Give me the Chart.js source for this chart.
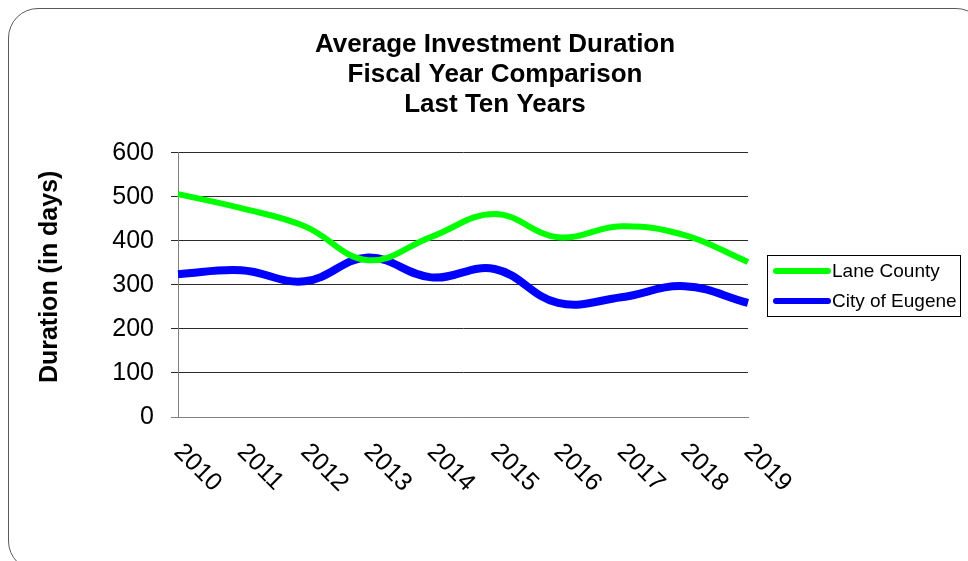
<!DOCTYPE html>
<html>
<head>
<meta charset="utf-8">
<title>Average Investment Duration</title>
<script src="https://cdn.jsdelivr.net/npm/chart.js@4.4.1/dist/chart.umd.min.js"></script>
<style>
  html, body { margin: 0; padding: 0; background: #fff; }
  #wrap { position: relative; width: 968px; height: 561px; overflow: hidden; }
  #frame {
    position: absolute; left: 8px; top: 8px; width: 978px; height: 563px;
    border: 1.5px solid #5a5a5a; border-radius: 30px; box-sizing: border-box;
  }
  #chart { position: absolute; left: 0; top: 0; }
</style>
</head>
<body>
<div id="wrap">
  <div id="frame"></div>
  <canvas id="chart" width="968" height="561"></canvas>
</div>
<script>
const years = ['2010', '2011', '2012', '2013', '2014', '2015', '2016', '2017', '2018', '2019'];
const laneCounty = [506, 474, 433, 356, 409, 461, 408, 433, 413, 352];
const cityOfEugene = [324, 333, 308, 362, 317, 336, 259, 272, 297, 259];
const titleLines = ['Average Investment Duration', 'Fiscal Year Comparison', 'Last Ten Years'];
const yAxisTitle = 'Duration (in days)';

const FONT = '"Liberation Sans", Arial, sans-serif';

// x labels are drawn turned clockwise, which the category axis can't do itself;
// the y title sits a little above the plot's middle, and the legend is a plain box
const extrasPlugin = {
  id: 'extras',
  afterDraw(chart) {
    const ctx = chart.ctx;
    const xScale = chart.scales.x;
    const area = chart.chartArea;

    ctx.save();
    ctx.fillStyle = '#000';
    ctx.font = '25px ' + FONT;
    ctx.textAlign = 'left';
    ctx.textBaseline = 'alphabetic';
    years.forEach((label, i) => {
      const x = xScale.getPixelForValue(i);
      ctx.save();
      ctx.translate(x - 5, xScale.top + 36);
      ctx.rotate(Math.PI / 4);
      ctx.fillText(label, 0, 0);
      ctx.restore();
    });

    // y axis title
    ctx.save();
    ctx.font = 'bold 25px ' + FONT;
    ctx.textAlign = 'center';
    ctx.textBaseline = 'middle';
    ctx.translate(50, (area.top + area.bottom) / 2 - 8);
    ctx.rotate(-Math.PI / 2);
    ctx.fillText(yAxisTitle, 0, 0);
    ctx.restore();

    // legend
    const box = { left: 767, top: 255, width: 193, height: 61 };
    ctx.lineWidth = 1;
    ctx.strokeStyle = '#000';
    ctx.strokeRect(box.left + 0.5, box.top + 0.5, box.width, box.height);
    ctx.font = '19px ' + FONT;
    ctx.textBaseline = 'middle';
    chart.data.datasets.forEach((ds, i) => {
      const y = box.top + 16 + i * 30;
      ctx.beginPath();
      ctx.lineCap = 'round';
      ctx.lineWidth = 6;
      ctx.strokeStyle = ds.borderColor;
      ctx.moveTo(box.left + 9, y);
      ctx.lineTo(box.left + 61, y);
      ctx.stroke();
      ctx.fillText(ds.label, box.left + 65, y + 1);
    });
    ctx.restore();
  }
};

new Chart(document.getElementById('chart'), {
  type: 'line',
  data: {
    labels: years,
    datasets: [
      {
        label: 'Lane County',
        data: laneCounty,
        borderColor: '#00ff00',
        borderWidth: 6,
        pointRadius: 0,
        tension: 0.4,
        fill: false
      },
      {
        label: 'City of Eugene',
        data: cityOfEugene,
        borderColor: '#0000ff',
        borderWidth: 8,
        pointRadius: 0,
        tension: 0.4,
        fill: false
      }
    ]
  },
  options: {
    responsive: false,
    animation: false,
    devicePixelRatio: 1,
    layout: { padding: { left: 22, right: 0, top: 0, bottom: 0 } },
    plugins: {
      legend: { display: false },
      tooltip: { enabled: false },
      title: {
        display: true,
        text: titleLines,
        color: '#000',
        font: { family: FONT, size: 26, weight: 'bold', lineHeight: 1.15 },
        padding: { top: 30, bottom: 33 }
      }
    },
    scales: {
      x: {
        grid: { display: false },
        border: { color: '#808080', width: 1 },
        ticks: { display: false },
        afterFit: s => { s.height = 144; }
      },
      y: {
        min: 0,
        max: 600,
        ticks: {
          stepSize: 100,
          color: '#000',
          padding: 17,
          font: { family: FONT, size: 25 }
        },
        grid: {
          color: c => (c.tick && c.tick.value === 0 ? '#808080' : '#2a2a2a'),
          tickLength: 7
        },
        border: { color: '#808080', width: 1 },
        afterFit: s => { s.width = 156; }
      },
      // empty right-hand axis, only there to keep room for the legend box
      gap: {
        position: 'right',
        display: true,
        grid: { display: false },
        border: { display: false },
        ticks: { display: false },
        afterFit: s => { s.width = 220; }
      }
    }
  },
  plugins: [extrasPlugin]
});
</script>
</body>
</html>
